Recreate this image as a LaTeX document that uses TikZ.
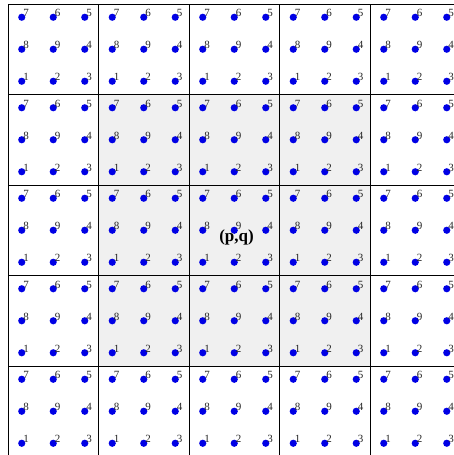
\documentclass[tikz,border=0pt]{standalone}
\usepackage{fontspec}
\setmainfont{Liberation Serif}
\usepackage{tikz}
\tikzset{every node/.style={font=\fontsize{11}{13}\selectfont}}
\colorlet{gridcol}{black}
\colorlet{fillcol}{black!6}
\colorlet{dotcol}{blue!90!black}
\colorlet{numcol}{black!85}
\newcommand{\cellsz}{90.5}

\begin{document}
\begin{tikzpicture}[x=1pt, y=-1pt]

  % Picture window.
  \useasboundingbox (0,0) rectangle (454,455);
  \clip (0,0) rectangle (454,455);

  % Shaded neighbourhood (3x3 cells around the centre).
  \fill[fillcol] (98.5,94.5) rectangle (370,366);

  % Cell grid.
  \foreach \i in {0,...,5} {
    \draw[gridcol, line width=0.9pt] ({8+\cellsz*\i},4) -- ({8+\cellsz*\i},470);
    \draw[gridcol, line width=0.9pt] (8,{4+\cellsz*\i}) -- (470,{4+\cellsz*\i});
  }

  % Numbered points in every cell.
  \foreach \i in {0,...,4} {
    \foreach \j in {0,...,4} {
      \foreach \dx/\dy/\k in {-1/-1/7, 0/-1/6, 1/-1/5,
                              -1/0/8,  0/0/9,  1/0/4,
                              -1/1/1,  0/1/2,  1/1/3} {
        \fill[dotcol] ({53.25+\cellsz*\i+31.5*\dx},{49.25+\cellsz*\j+32*\dy})
          circle (3.6) node[above right, inner sep=0.4pt, xshift=1pt, text=numcol] {\k};
      }
    }
  }

  % Centre label.
  \node[font=\fontsize{17}{20}\selectfont\bfseries] (pq) at (236.5,237) {(p,q)};

\end{tikzpicture}
\end{document}
